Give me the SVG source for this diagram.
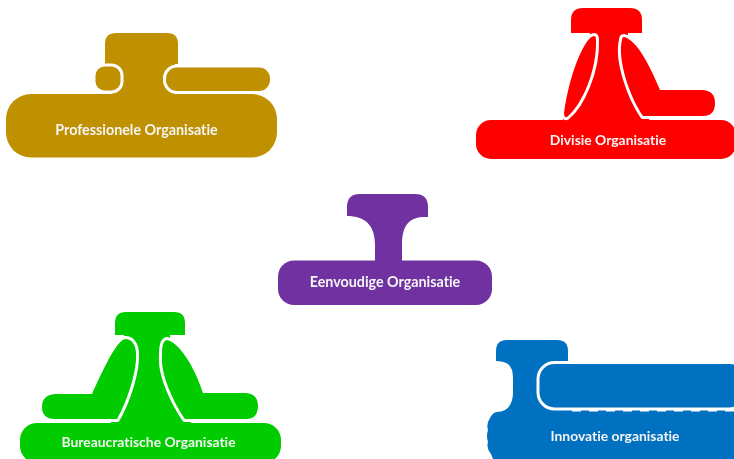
<svg xmlns="http://www.w3.org/2000/svg" width="734" height="459" viewBox="0 0 734 459">
<style>
.t{font-family:"Lato","Liberation Sans",sans-serif;font-weight:700;font-size:14.300px;fill:#f4f4f4;text-anchor:middle;font-variant-ligatures:none}
.s{font-size:13.900px}
.pod{stroke:#fff;stroke-width:6;paint-order:stroke;stroke-linejoin:round}
.gold{fill:#BF9000}.red{fill:#FF0000}.purple{fill:#7030A0}.green{fill:#00CC00}.blue{fill:#0070C0}
</style>
<defs><filter id="soft" x="0" y="0" width="734" height="459" filterUnits="userSpaceOnUse"><feGaussianBlur stdDeviation="0.450"/></filter></defs>
<rect width="734" height="459" fill="#fff"/>
<g filter="url(#soft)">
<g id="professionele" class="gold">
<rect x="6" y="94" width="271" height="63.500" rx="25"/>
<path d="M105 64V44Q105 33 116 33H167Q178 33 178 44V64H175V100H112V64Z"/>
<rect class="pod" x="95.500" y="66.500" width="25" height="24" rx="9"/>
<rect class="pod" x="166" y="67.500" width="104" height="23.500" rx="11"/>
<text class="t" x="136.500" y="134.500">Professionele Organisatie</text>
</g>
<g id="divisie" class="red">
<rect x="476" y="120" width="260" height="39" rx="15"/>
<path d="M571 33V20Q571 8 583 8H630Q642 8 642 20V33H628V60L650 122H562L585 60L590 33Z"/>
<path class="pod" d="M594 36C586 36 570 70 564 113Q564 118 567 117C582 105 597 70 596 40Q596 36 594 36Z"/>
<path class="pod" d="M624 37C637 40 650 66 660 90H703Q715 91 715 103Q715 116 703 116H643C630 97 617 60 622 40Q622 37 624 37Z"/>
<text class="t s" x="608" y="144.500">Divisie Organisatie</text>
</g>
<g id="eenvoudig" class="purple">
<rect x="278" y="260.500" width="214" height="44.500" rx="16"/>
<path d="M347 216V207Q347 194 360 194H415Q428 194 428 207V217C412 216 402 222 402 245V262H375V245C375 225 365 216 347 216Z"/>
<text class="t" x="385" y="287">Eenvoudige Organisatie</text>
</g>
<g id="bureaucratisch" class="green">
<rect x="20" y="423" width="261" height="40" rx="17"/>
<path d="M115 335V323Q115 312 126 312H174Q185 312 185 323V335H170V360L192 425H110L130 360L124 335Z"/>
<path class="pod" d="M125 339C116 341 102 372 92 394H55Q42 395 42 407Q42 419 55 419H117C128 400 137 370 136 354C136 345 132 339 125 339Z"/>
<path class="pod" d="M167 340C180 343 195 368 203 393H246Q258 394 258 406Q258 419 246 419H185C175 405 160 375 162 355C162 346 163 341 167 340Z"/>
<text class="t s" x="148.500" y="447">Bureaucratische Organisatie</text>
</g>
<g id="innovatie" class="blue">
<path d="M496 361V351Q496 340 507 340H557Q568 340 568 351V361H560V409H734V459H493L491 454Q486 448 488 442Q486 436 488 430Q486 424 490 418Q493 412 497 412Q506 412 510 405Q513 400 513 392V378Q513 368 508 364Q503 361 496 361Z"/>
<rect class="pod" x="539.500" y="364" width="205" height="43.500" rx="15"/>
<path d="M572 410.800H734" stroke="#fff" stroke-width="1.500" stroke-dasharray="9 8" fill="none"/>
<text class="t s" x="615" y="441">Innovatie organisatie</text>
</g>
</g>
</svg>
